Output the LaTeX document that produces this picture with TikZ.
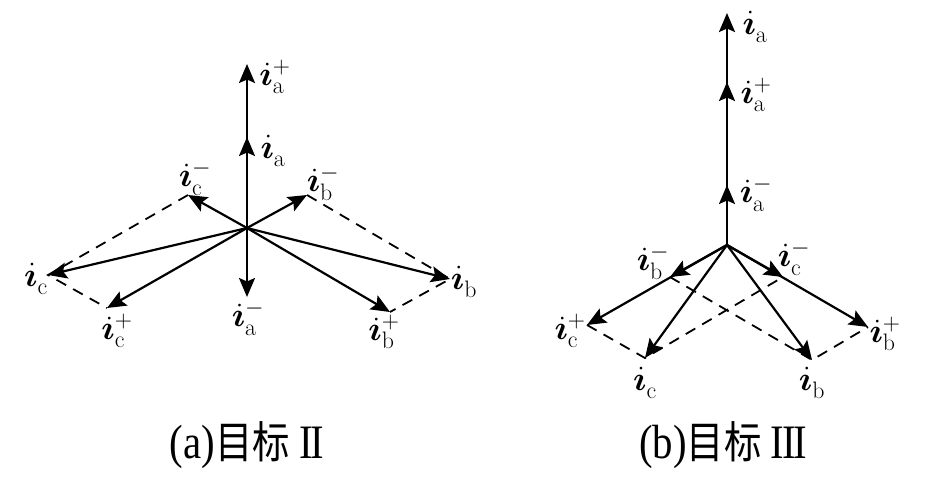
\RequirePackage{fix-cm}
\documentclass[tikz,border=0pt]{standalone}
\usepackage{fontspec}
\usepackage{graphicx}
\usepackage{bm}
\newfontfamily\cjk{Noto Sans CJK SC}
\newfontfamily\capserif{Liberation Serif}
\usetikzlibrary{arrows.meta}
\newcommand{\phasorI}[2]{$\bm{\dot{\imath}}_{\mathrm{#1}}^{#2}$}
\begin{document}
\begin{tikzpicture}[x=1pt,y=-1pt,
  vec/.style={line width=2.2pt,-{Stealth[length=19pt,width=16pt,inset=3.5pt]}},
  dsh/.style={line width=1.8pt,dash pattern=on 11pt off 8pt},
  lbl/.style={inner sep=0pt,font=\fontsize{34}{34}\selectfont},
  captxt/.style={inner sep=0pt,font=\fontsize{44}{44}\selectfont}]
\useasboundingbox (0,0) rectangle (947,482);
% ---------- (a) ----------
\coordinate (O1) at (247,228);
\coordinate (A1p) at (247,64);
\coordinate (A1) at (247,137);
\coordinate (A1m) at (247,297);
\coordinate (C1m) at (188,195);
\coordinate (B1m) at (307,195);
\coordinate (C1) at (48,275);
\coordinate (B1) at (450,279);
\coordinate (C1p) at (107,308);
\coordinate (B1p) at (390,312);
\draw[dsh] (C1m) -- (C1) -- (C1p);
\draw[dsh] (B1m) -- (B1) -- (B1p);
\foreach \t in {A1p,A1,A1m,C1m,B1m,C1,B1,C1p,B1p}
  \draw[vec] (O1) -- (\t);
\node[lbl] (lA1p) at (275,77) {\phasorI{a}{+}};
\node[lbl] (lA1) at (273,151) {\phasorI{a}{}};
\node[lbl] (lA1m) at (248,318) {\phasorI{a}{-}};
\node[lbl] (lC1m) at (195,178) {\phasorI{c}{-}};
\node[lbl] (lB1m) at (323,183) {\phasorI{b}{-}};
\node[lbl] (lC1) at (36,279) {\phasorI{c}{}};
\node[lbl] (lB1) at (464,282) {\phasorI{b}{}};
\node[lbl] (lC1p) at (117,331) {\phasorI{c}{+}};
\node[lbl] (lB1p) at (384,332) {\phasorI{b}{+}};
% ---------- (b) ----------
\coordinate (O2) at (727,245);
\coordinate (A2) at (727,13);
\coordinate (A2p) at (727,82);
\coordinate (A2m) at (727,185);
\coordinate (B2m) at (670,277);
\coordinate (C2m) at (783,277);
\coordinate (C2p) at (587,325);
\coordinate (B2p) at (868,327);
\coordinate (C2) at (645,358);
\coordinate (B2) at (812,360);
\draw[dsh] (C2p) -- (C2) -- (C2m);
\draw[dsh] (B2m) -- (B2) -- (B2p);
\foreach \t in {A2,A2p,A2m,B2m,C2m,C2p,B2p,C2,B2}
  \draw[vec] (O2) -- (\t);
\node[lbl] (lA2) at (755,27) {\phasorI{a}{}};
\node[lbl] (lA2p) at (756,95) {\phasorI{a}{+}};
\node[lbl] (lA2m) at (756,194) {\phasorI{a}{-}};
\node[lbl] (lB2m) at (653,262) {\phasorI{b}{-}};
\node[lbl] (lC2m) at (794,258) {\phasorI{c}{-}};
\node[lbl] (lC2p) at (570,331) {\phasorI{c}{+}};
\node[lbl] (lB2p) at (885,334) {\phasorI{b}{+}};
\node[lbl] (lC2) at (645,383) {\phasorI{c}{}};
\node[lbl] (lB2) at (812,383) {\phasorI{b}{}};
% ---------- captions ----------
\node[captxt] (capa) at (247,445) {\scalebox{0.85}[1]{{\capserif\fontsize{48}{48}\selectfont (a)}{\cjk 目标}\hspace{0.25em}{\capserif\fontsize{48}{48}\selectfont I\kern-0.06em I}}};
\node[captxt] (capb) at (723,445) {\scalebox{0.85}[1]{{\capserif\fontsize{48}{48}\selectfont (b)}{\cjk 目标}\hspace{0.25em}{\capserif\fontsize{48}{48}\selectfont I\kern-0.06em I\kern-0.06em I}}};
\end{tikzpicture}
\end{document}
